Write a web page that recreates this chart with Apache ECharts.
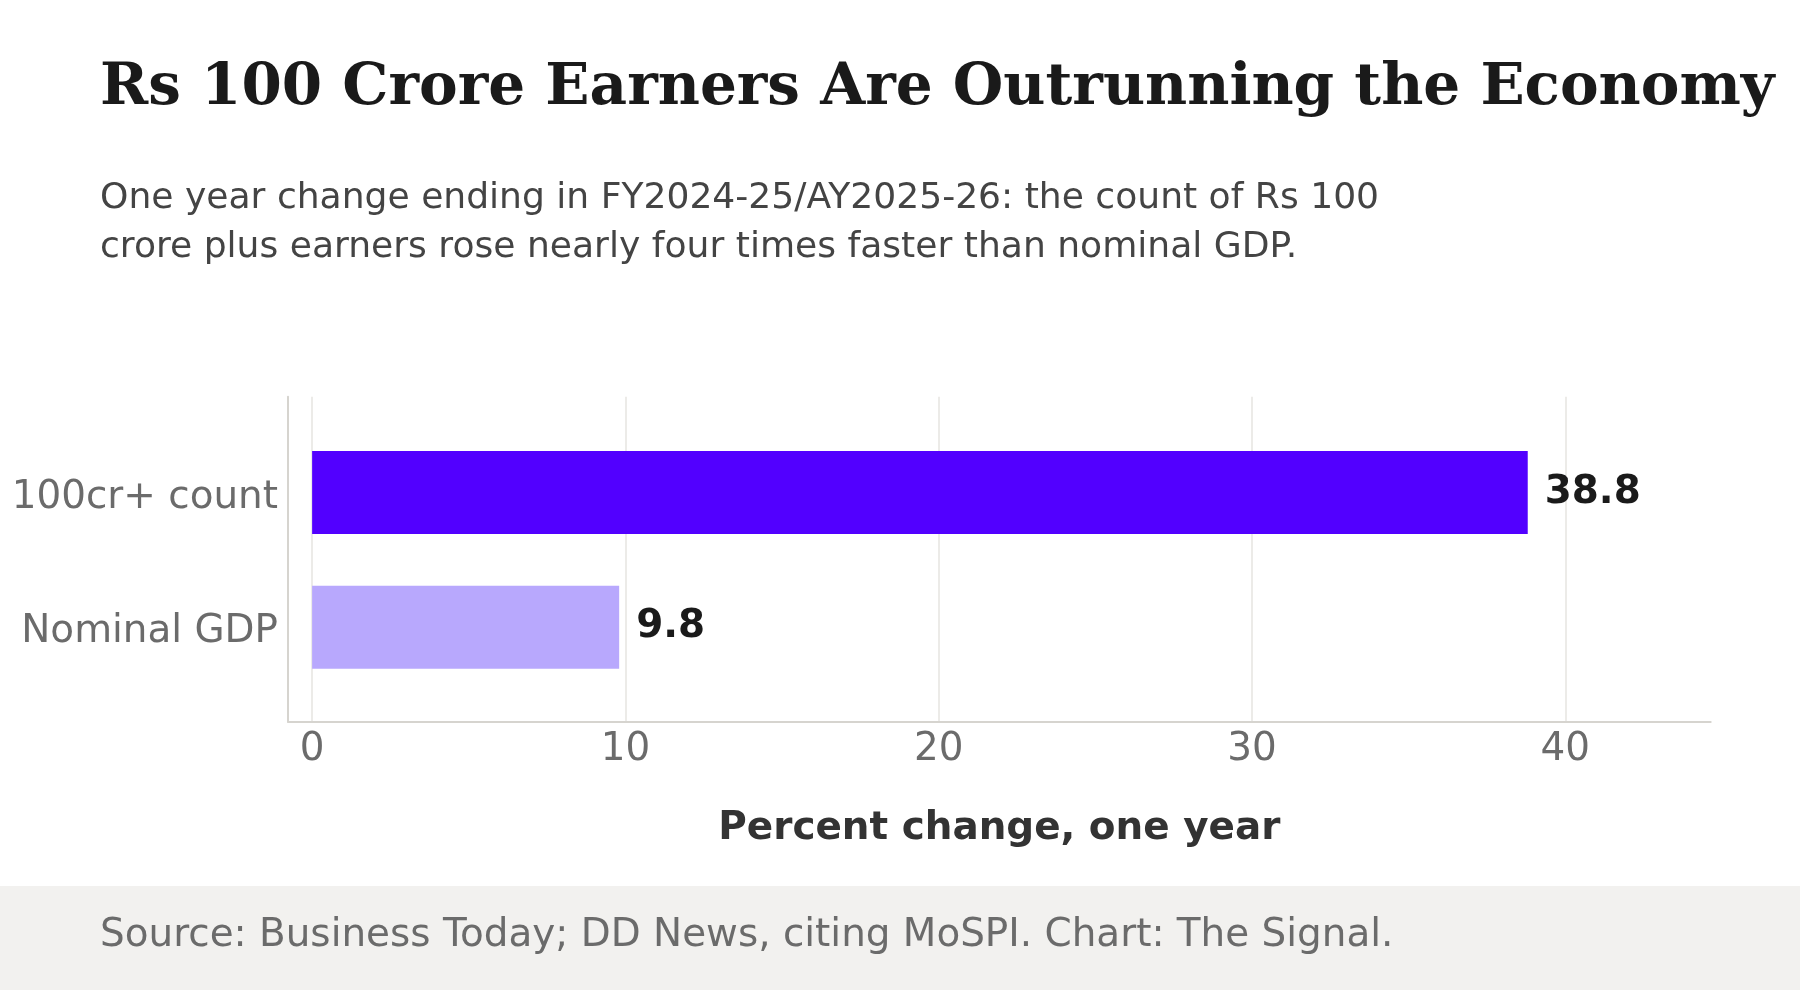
<!DOCTYPE html>
<html>
<head>
<meta charset="utf-8">
<style>
  html, body { margin: 0; padding: 0; background: #ffffff; }
  #chart { width: 1800px; height: 990px; }
</style>
<script src="https://cdn.jsdelivr.net/npm/echarts@6/dist/echarts.min.js"></script>
</head>
<body>
<div id="chart"></div>
<script>
// ---- data ----
const categories = ['100cr+ count', 'Nominal GDP'];
const values = [38.8, 9.8];
const tickValues = [0, 10, 20, 30, 40];
const titleText = 'Rs 100 Crore Earners Are Outrunning the Economy';
const subtitleLines = [
  'One year change ending in FY2024-25/AY2025-26: the count of Rs 100',
  'crore plus earners rose nearly four times faster than nominal GDP.'
];
const axisTitle = 'Percent change, one year';
const sourceText = 'Source: Business Today; DD News, citing MoSPI. Chart: The Signal.';

// ---- style ----
const barColors = ['#5200ff', '#b8a8fd'];
const sans = 'DejaVu Sans';
const serif = 'DejaVu Serif';
const xMin = -0.77, xMax = 44.64;

const chart = echarts.init(document.getElementById('chart'), null, { renderer: 'canvas' });

const option = {
  backgroundColor: '#ffffff',
  animation: false,
  grid: [
    { left: 288, right: 89.3, top: 425.1, bottom: 295.3 },
    { left: 288, right: 89.3, top: 396.7, bottom: 268.3 }
  ],
  xAxis: [
    {
      gridIndex: 0, type: 'value', min: xMin, max: xMax,
      axisLine: { show: false }, axisTick: { show: false },
      axisLabel: { show: false }, splitLine: { show: false }
    },
    {
      gridIndex: 1, type: 'value', min: xMin, max: xMax,
      axisLine: { show: true, onZero: false, lineStyle: { color: '#d6d4cf', width: 2 } },
      axisTick: { show: false, customValues: tickValues },
      axisLabel: {
        show: true, customValues: tickValues, margin: 9,
        color: '#6b6b6b', fontFamily: sans, fontSize: 38.9
      },
      splitLine: { show: true, lineStyle: { color: '#e6e4e0', width: 1.5 } },
      name: axisTitle, nameLocation: 'middle', nameGap: 88,
      nameTextStyle: { color: '#333333', fontFamily: sans, fontSize: 38.9, fontWeight: 'bold' }
    }
  ],
  yAxis: [
    {
      gridIndex: 0, type: 'category', data: categories, inverse: true,
      axisLine: { show: false }, axisTick: { show: false },
      axisLabel: {
        margin: 10, color: '#6b6b6b', fontFamily: sans, fontSize: 38.9,
        formatter: v => '{l|' + v + '}',
        rich: { l: { color: '#6b6b6b', fontFamily: sans, fontSize: 38.9, padding: [10, 0, 0, 0] } }
      },
      splitLine: { show: false }
    },
    {
      gridIndex: 1, type: 'value', min: 0, max: 1,
      axisLine: { show: true, onZero: false, lineStyle: { color: '#d6d4cf', width: 2 } },
      axisTick: { show: false }, axisLabel: { show: false }, splitLine: { show: false }
    }
  ],
  series: [
    {
      type: 'bar', xAxisIndex: 0, yAxisIndex: 0,
      barWidth: '61.6%',
      data: values.map((v, i) => ({ value: v, itemStyle: { color: barColors[i] } })),
      label: {
        show: true, position: 'right', distance: 17,
        color: '#1a1a1a', fontFamily: sans, fontSize: 38.9, fontWeight: 'bold',
        formatter: p => p.value.toFixed(1)
      },
      z: 3
    }
  ],
  graphic: [
    { type: 'rect', z: -10, shape: { x: 0, y: 886, width: 1800, height: 104 }, style: { fill: '#f2f1ef' } },
    { type: 'text', left: 100, top: 60, style: { text: titleText, fill: '#1a1a1a', font: 'bold 58px "' + serif + '"' } },
    { type: 'text', left: 100, top: 181, style: { text: subtitleLines[0], fill: '#444444', font: '36.1px "' + sans + '"' } },
    { type: 'text', left: 100, top: 230, style: { text: subtitleLines[1], fill: '#444444', font: '36.1px "' + sans + '"' } },
    { type: 'text', left: 100, top: 916, style: { text: sourceText, fill: '#6b6b6b', font: '38.9px "' + sans + '"' } }
  ]
};
chart.setOption(option);
</script>
</body>
</html>
